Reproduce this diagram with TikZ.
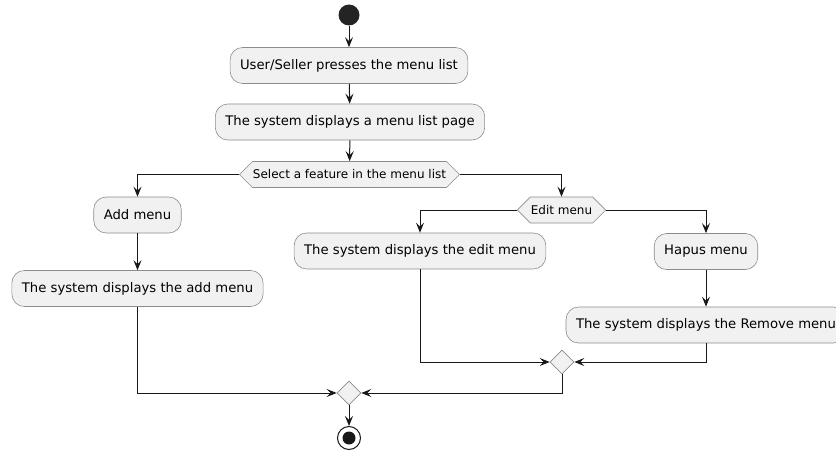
\documentclass[tikz,border=0pt]{standalone}
\usepackage{fontspec}
\setmainfont{DejaVu Sans}
\usetikzlibrary{arrows.meta,shapes.geometric,shapes.symbols}
\definecolor{umlline}{HTML}{181818}
\definecolor{umlfill}{HTML}{F1F1F1}
\definecolor{umlborder}{HTML}{8C8C8C}
\begin{document}
\begin{tikzpicture}[x=1pt,y=-1pt,
  act/.style={draw=umlborder,line width=0.6pt,fill=umlfill,rounded corners=12.5pt,
    minimum height=36pt,inner xsep=10pt,font=\fontsize{13.2}{15}\selectfont},
  choice/.style={signal,signal to=west and east,signal pointer angle=90,draw=umlborder,
    line width=0.6pt,fill=umlfill,minimum height=26pt,inner xsep=0.5pt,inner ysep=0pt,
    font=\fontsize{12}{14}\selectfont},
  merge/.style={diamond,draw=umlborder,line width=0.6pt,fill=umlfill,minimum size=24pt,inner sep=0pt},
  flow/.style={umlline,line width=1pt,-{Stealth[length=10pt,width=8pt,inset=4pt]}}]
\useasboundingbox (0,0) rectangle (836,452);
\node [circle,fill=umlline!95!white,minimum size=21pt,inner sep=0pt] (start) at (349,15) {};
\node [act] (press) at (349,65.5) {User/Seller presses the menu list};
\node [act] (page) at (350,122) {The system displays a menu list page};
\node [choice] (feature) at (349.5,174.5) {Select a feature in the menu list};
\node [act] (add) at (137.5,215) {Add menu};
\node [act] (addsys) at (137.5,288.5) {The system displays the add menu};
\node [choice] (edit) at (561.5,210) {Edit menu};
\node [act] (editsys) at (420,251) {The system displays the edit menu};
\node [act] (hapus) at (706,251.5) {Hapus menu};
\node [act] (remove) at (706,325) {The system displays the Remove menu};
\node [merge] (join2) at (562,362) {};
\node [merge] (join1) at (349,393) {};
\node [circle,draw=umlline,line width=1pt,minimum size=23pt,inner sep=0pt] (stop) at (349,438) {};
\fill [umlline] (stop.center) circle (6.5);
% flows
\draw [flow] (start) -- (press);
\draw [flow] (press) -- (page);
\draw [flow] (page) -- (feature);
\draw [flow] (feature.west) -| (add.north);
\draw [flow] (add) -- (addsys);
\draw [flow] (addsys.south) |- (join1.west);
\draw [flow] (feature.east) -| (edit.north);
\draw [flow] (edit.west) -| (editsys.north);
\draw [flow] (edit.east) -| (hapus.north);
\draw [flow] (hapus) -- (remove);
\draw [flow] (editsys.south) |- (join2.west);
\draw [flow] (remove.south) |- (join2.east);
\draw [flow] (join2.south) |- (join1.east);
\draw [flow] (join1) -- (stop);
\end{tikzpicture}
\end{document}
